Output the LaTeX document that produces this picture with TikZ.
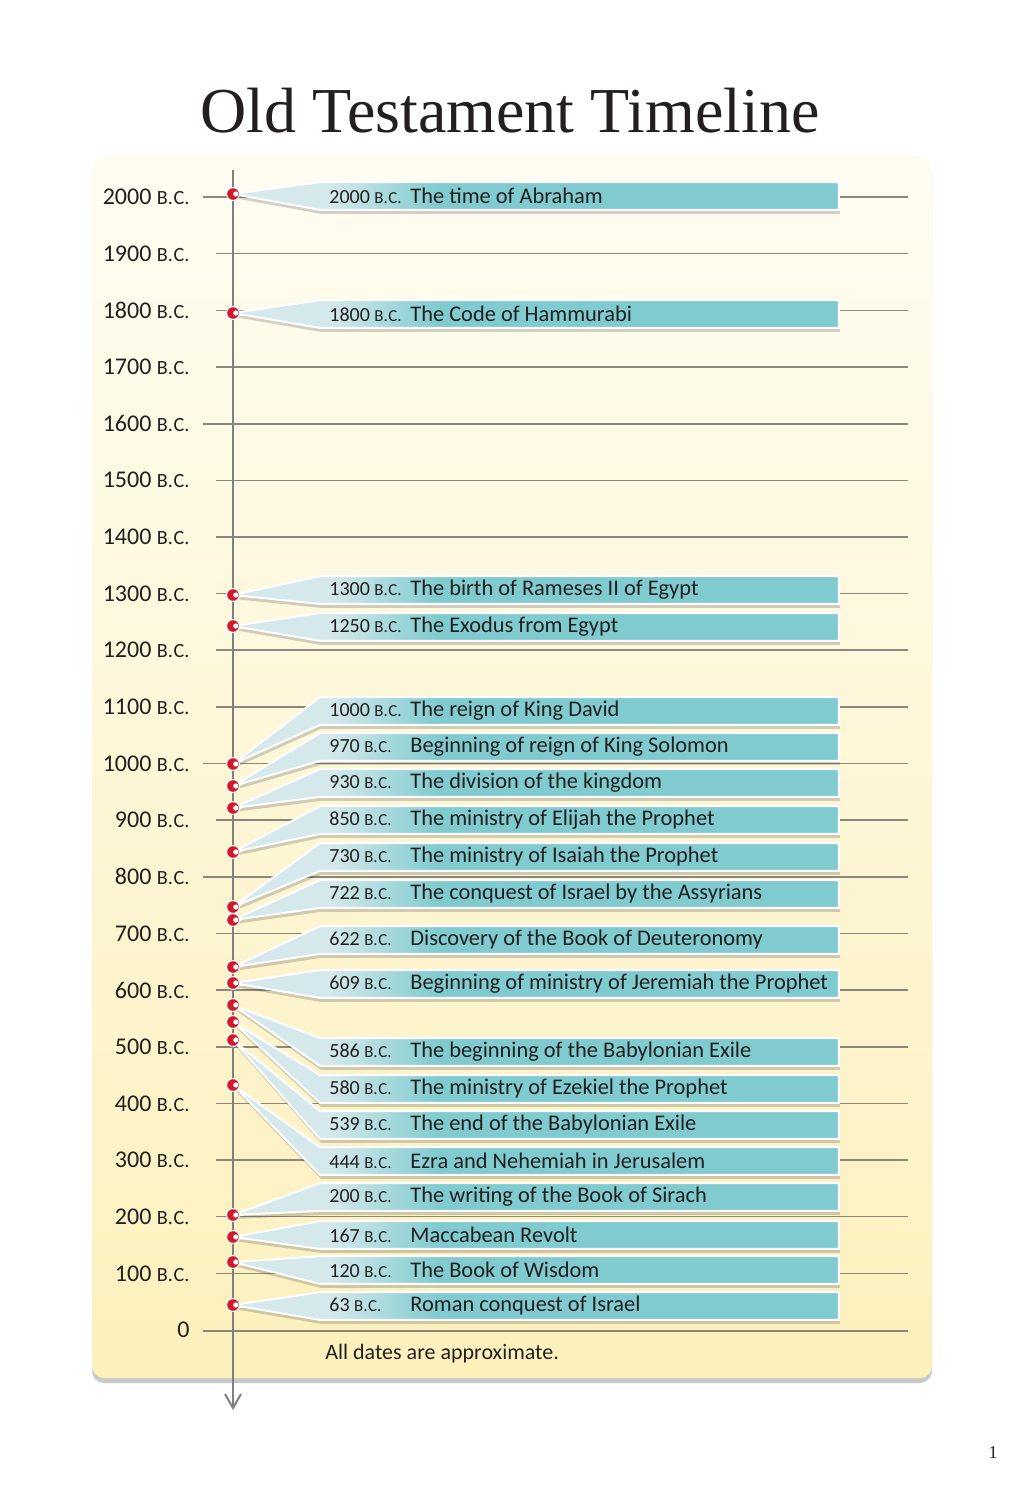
\documentclass[tikz,border=0pt]{standalone}
\usepackage{fontspec}
\setmainfont{Carlito}
\newfontfamily\ttlfont{Liberation Serif}
\usepackage{graphicx}
\usetikzlibrary{positioning,shadows,arrows.meta}

\definecolor{panelTop}{HTML}{FFFDF2}
\definecolor{panelBot}{HTML}{FCF0BC}
\definecolor{calloutTeal}{HTML}{7FCBCF}
\definecolor{calloutLight}{HTML}{D5E9EC}
\definecolor{gridGray}{HTML}{8C877A}
\definecolor{axisGray}{HTML}{808080}
\definecolor{markRed}{HTML}{D2182B}
\definecolor{inkDark}{HTML}{231F20}

\pgfdeclarehorizontalshading{calloutshade}{100bp}{color(0bp)=(calloutLight); color(33bp)=(calloutLight); color(42bp)=(calloutTeal); color(100bp)=(calloutTeal)}

\pgfdeclarelayer{back}
\pgfdeclarelayer{grid}
\pgfdeclarelayer{shape}
\pgfsetlayers{back,grid,shape,main}

% fake small caps, Carlito has none
\newcommand{\bcsc}{\scalebox{0.84}{B.\kern0.04em C.}}

\begin{document}
\begin{tikzpicture}[x=0.5pt, y=-0.5pt,
                   every node/.style = {text=inkDark},
                   yearlabel/.style = {anchor=east, inner sep=0pt,
                   font=\fontsize{12}{14}\selectfont},
                   gridline/.style = {draw=gridGray},
                   axisline/.style = {draw=axisGray, line width=1pt,
                   -{Straight Barb[length=7pt,width=8pt]}},
                   panel/.style = {rounded corners=6pt, top color=panelTop,
                   bottom color=panelBot,
                   drop shadow={shadow xshift=0pt, shadow yshift=-2.5pt,
                   opacity=0.35, fill=black!60}},
                   callout/.style = {shading=calloutshade, draw=white,
                   line width=1pt,
                   drop shadow={shadow xshift=0.5pt, shadow yshift=-2pt,
                   opacity=0.25, fill=black!70}},
                   calloutbox/.style = {anchor=west, minimum width=260pt,
                   inner xsep=5.5pt, inner ysep=0pt,
                   minimum height=13.5pt,
                   font=\fontsize{11.2}{13}\selectfont},
                   marker/.style = {circle, fill=markRed, draw=white,
                   line width=0.5pt, inner sep=0pt, minimum size=6.4pt,
                   path picture={\fill[white] ([xshift=1.4pt]path picture bounding box.center)
                   circle (1.3pt);}}]
  \useasboundingbox (0,0) rectangle (1020,1500);

  % title
  \node[anchor=base, font=\ttlfont\fontsize{32}{36}\selectfont] (title)
    at (510,132) {Old Testament Timeline};

  % panel
  \coordinate (pnw) at (92,156);
  \coordinate (pse) at (932,1378);
  \begin{pgfonlayer}{back}
    \path[panel] (pnw) rectangle (pse);
  \end{pgfonlayer}

  % hundred-year lines
  \foreach \k/\xs/\lw in {0/203/1.0,1/216/0.75,2/216/0.75,3/216/0.75,
      4/203/1.0,5/216/0.75,6/216/0.75,7/216/0.75,8/216/0.75,9/216/0.75,
      10/203/0.8,11/216/0.75,12/203/1.0,13/216/0.75,14/216/0.75,
      15/216/0.75,16/216/0.75,17/216/0.75,18/216/0.75,19/216/0.75}{
    \pgfmathsetmacro\yy{197+56.65*\k}
    \pgfmathtruncatemacro\yr{2000-100*\k}
    \node[yearlabel] (yr\k) at (190,\yy) {\yr\ \bcsc};
    \coordinate (gl\k) at (\xs,\yy);
    \coordinate (gr\k) at (908,\yy);
    \begin{pgfonlayer}{grid}
      \draw[gridline, line width=\lw pt] (gl\k) -- (gr\k);
    \end{pgfonlayer}
  }
  \node[yearlabel] (yr20) at (190,1330) {0};
  \coordinate (gl20) at (203,1331);
  \coordinate (gr20) at (908,1331);
  \begin{pgfonlayer}{grid}
    \draw[gridline, line width=1pt] (gl20) -- (gr20);
  \end{pgfonlayer}

  % time axis
  \coordinate (axtop) at (233,170);
  \coordinate (axbot) at (233,1410);
  \draw[axisline] (axtop) -- (axbot);

  % events
  \foreach \n/\d/\t/\m/\c in {
      1/2000/The time of Abraham/194/196,
      2/1800/The Code of Hammurabi/313/314,
      3/1300/The birth of Rameses II of Egypt/595/590,
      4/1250/The Exodus from Egypt/626/627,
      5/1000/The reign of King David/764/711,
      6/970/Beginning of reign of King Solomon/786/747,
      7/930/The division of the kingdom/808/783,
      8/850/The ministry of Elijah the Prophet/852/820,
      9/730/The ministry of Isaiah the Prophet/907/857,
      10/722/The conquest of Israel by the Assyrians/920/894,
      11/622/Discovery of the Book of Deuteronomy/967/940,
      12/609/Beginning of ministry of Jeremiah the Prophet/983/984,
      13/586/The beginning of the Babylonian Exile/1005/1052,
      14/580/The ministry of Ezekiel the Prophet/1022/1089,
      15/539/The end of the Babylonian Exile/1040/1125,
      16/444/Ezra and Nehemiah in Jerusalem/1085/1161,
      17/200/The writing of the Book of Sirach/1215/1197,
      18/167/Maccabean Revolt/1237/1235,
      19/120/The Book of Wisdom/1262/1270,
      20/63/Roman conquest of Israel/1305/1306}{
    \node[calloutbox] (b\n) at (318,\c)
      {\makebox[249pt][l]{\makebox[40.5pt][l]{\fontsize{10}{12}\selectfont\d\ \bcsc}\t}};
    \node[marker] (m\n) at (233,\m) {};
    \begin{pgfonlayer}{shape}
      \path[callout] (m\n.center) -- ([xshift=1pt]b\n.north west)
        -- (b\n.north east) -- (b\n.south east)
        -- ([xshift=1pt]b\n.south west) -- cycle;
    \end{pgfonlayer}
  }

  \node[anchor=base west, inner sep=0pt, font=\fontsize{11}{13}\selectfont]
    (note) at (325,1359) {All dates are approximate.};
  \node[anchor=base, inner sep=0pt, font=\ttlfont\fontsize{9}{11}\selectfont]
    (pagenum) at (993,1458) {1};
\end{tikzpicture}
\end{document}
